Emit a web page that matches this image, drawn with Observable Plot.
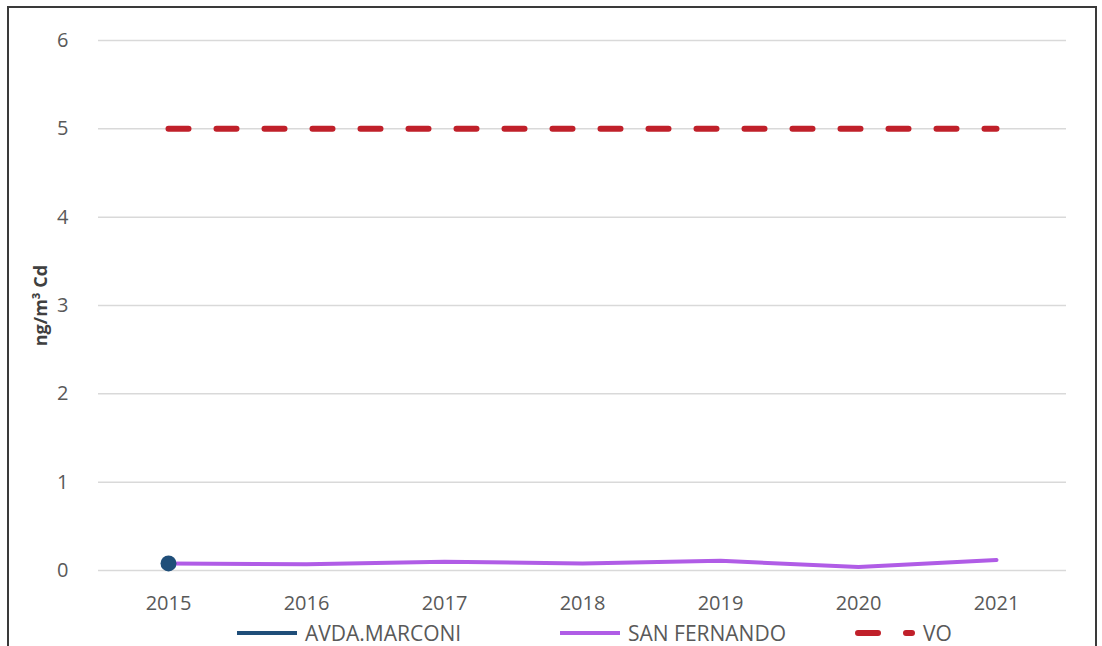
<!DOCTYPE html>
<html>
<head>
<meta charset="utf-8">
<script src="https://cdn.jsdelivr.net/npm/d3@7"></script>
<script src="https://cdn.jsdelivr.net/npm/@observablehq/plot@0.6"></script>
<style>
  html, body { margin: 0; padding: 0; background: #fff; }
  #wrap { position: relative; width: 1102px; height: 646px; overflow: hidden; font-family: "Open Sans", sans-serif; }
  #frame { position: absolute; left: 7px; top: 6px; width: 1090px; height: 660px; border: 2px solid #3a3a3a; box-sizing: border-box; pointer-events: none; }
  #chart { position: absolute; left: 0; top: 0; }
  #legend { position: absolute; left: 0; top: 620px; width: 1102px; height: 26px; }
  .item { position: absolute; top: 0; height: 26px; display: flex; align-items: center; font-size: 21px; line-height: 26px; color: #595959; }
  .item svg { margin-right: 8px; }
</style>
</head>
<body>
<div id="wrap">
  <div id="chart"></div>
  <div id="legend"></div>
  <div id="frame"></div>
</div>
<script>
const years = [2015, 2016, 2017, 2018, 2019, 2020, 2021];
const avdaMarconi = [0.08, null, null, null, null, null, null];
const sanFernando = [0.08, 0.07, 0.10, 0.08, 0.11, 0.04, 0.12];
const vo = [5, 5, 5, 5, 5, 5, 5];
const yTicks = [0, 1, 2, 3, 4, 5, 6];
const seriesNames = ["AVDA.MARCONI", "SAN FERNANDO", "VO"];
const colors = ["#1f4e79", "#b05ce6", "#c0202a"];
const yLabel = "ng/m³ Cd";

const rows = (vals) => years.map((y, i) => ({year: String(y), value: vals[i]})).filter(d => d.value != null);

const plot = Plot.plot({
  width: 1102,
  height: 620,
  marginLeft: 98,
  marginRight: 36,
  marginTop: 40,
  marginBottom: 50,
  style: {fontFamily: "'Open Sans', sans-serif", fontSize: "20px", color: "#595959", background: "transparent"},
  x: {type: "point", domain: years.map(String), padding: 0.5, label: null},
  y: {domain: [0, 6], ticks: yTicks, label: null},
  marks: [
    Plot.ruleY(yTicks, {stroke: "#d9d9d9", strokeWidth: 1.5}),
    Plot.axisX({tickSize: 0, tickPadding: 25, fontSize: 20}),
    Plot.axisY({tickSize: 0, tickPadding: 30, fontSize: 20, ticks: yTicks, tickFormat: "d"}),
    Plot.text([yLabel], {frameAnchor: "left", dx: -57, rotate: -90, textAnchor: "middle", lineAnchor: "middle", fontWeight: "bold", fontSize: 18, fill: "#404040"}),
    Plot.line(rows(vo), {x: "year", y: "value", stroke: colors[2], strokeWidth: 6, strokeDasharray: "20,28", strokeLinecap: "round"}),
    Plot.line(rows(sanFernando), {x: "year", y: "value", stroke: colors[1], strokeWidth: 4, strokeLinejoin: "round", strokeLinecap: "round"}),
    Plot.line(rows(avdaMarconi), {x: "year", y: "value", stroke: colors[0], strokeWidth: 4}),
    Plot.dot(rows(avdaMarconi), {x: "year", y: "value", r: 8, fill: colors[0], stroke: "none"})
  ]
});
document.getElementById("chart").appendChild(plot);

const legendLeft = [237, 560, 855];
const legend = document.getElementById("legend");
seriesNames.forEach((name, i) => {
  const div = document.createElement("div");
  div.className = "item";
  div.style.left = legendLeft[i] + "px";
  const dash = i === 2 ? 'stroke-dasharray="20,28" stroke-linecap="round"' : '';
  const sw = i === 2 ? 6 : 4;
  const x1 = i === 2 ? 3 : 0, x2 = i === 2 ? 57 : 60;
  div.innerHTML = `<svg width="60" height="12"><line x1="${x1}" y1="6" x2="${x2}" y2="6" stroke="${colors[i]}" stroke-width="${sw}" ${dash}/></svg><span>${name}</span>`;
  legend.appendChild(div);
});
</script>
</body>
</html>
